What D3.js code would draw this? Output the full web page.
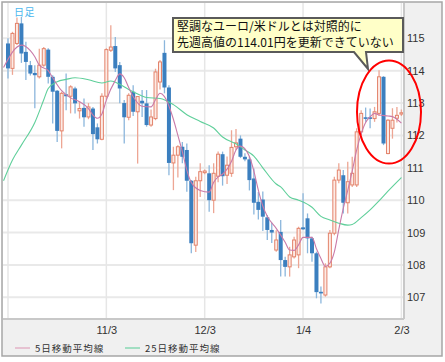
<!DOCTYPE html>
<html>
<head>
<meta charset="utf-8">
<script src="https://cdn.jsdelivr.net/npm/d3@7"></script>
<style>
  body { margin: 0; background: #fff; }
  svg { display: block; }
</style>
</head>
<body>
<div id="chart"></div>
<script>
// daily candles [open, high, low, close], one per trading day, index 0 = 10/3
const candles = [
  [114.84,115.00,113.76,114.07],[114.07,115.20,113.87,115.15],[114.84,115.64,114.79,115.46],[115.46,115.66,114.24,114.53],
  [114.58,114.89,113.71,114.27],[114.17,114.30,113.85,113.91],[113.93,114.17,112.84,113.86],[113.81,114.68,113.76,114.17],
  [114.17,114.73,114.12,114.68],[114.65,114.69,113.60,113.81],[113.81,113.86,112.37,113.35],[113.38,113.40,111.80,112.14],
  [112.14,113.35,111.60,113.30],[113.27,113.91,112.78,113.21],[113.21,113.55,112.68,113.50],[113.45,113.50,112.68,112.99],
  [112.76,113.04,112.52,112.83],[112.85,113.14,112.27,112.56],[112.57,113.00,112.50,112.88],[112.83,112.88,111.55,112.04],
  [112.25,112.37,111.75,111.88],[111.88,113.30,111.85,113.21],[113.21,114.69,113.09,114.65],[114.63,115.40,114.58,114.73],
  [114.76,115.04,113.96,114.07],[114.17,114.27,112.99,113.45],[113.00,113.09,111.75,112.56],[112.56,113.30,112.47,113.24],
  [113.35,113.55,112.60,112.73],[112.73,113.19,111.13,113.20],[113.07,113.40,112.57,112.99],[112.99,113.40,112.27,112.32],
  [112.32,112.80,112.27,112.57],[112.52,114.06,112.47,113.96],[113.65,114.33,113.42,114.27],[114.55,114.94,113.30,113.48],
  [113.48,113.55,110.77,111.15],[111.15,111.65,110.31,111.39],[111.39,111.70,110.70,111.65],[111.65,111.80,111.14,111.34],
  [111.55,111.75,110.26,110.60],[110.60,110.62,108.36,108.67],[108.61,110.72,108.40,110.60],[110.60,111.14,110.10,110.88],
  [110.85,110.95,110.80,110.90],[110.83,111.08,109.64,110.00],[110.00,111.14,109.60,110.83],[110.74,111.50,110.55,111.42],
  [111.42,111.50,110.45,110.74],[110.77,111.35,110.50,111.08],[110.83,112.16,110.72,111.63],[111.65,112.20,111.55,111.77],
  [111.90,112.00,111.30,111.34],[111.34,111.45,111.20,111.26],[111.26,111.35,110.30,110.62],[110.67,110.98,109.56,109.92],
  [109.95,110.25,109.40,109.70],[110.02,110.27,109.05,109.49],[109.47,109.54,108.77,109.08],[109.08,109.30,108.68,109.00],
  [108.46,109.07,108.41,108.77],[109.02,109.39,107.64,108.15],[108.15,108.25,107.64,107.94],[107.94,108.56,107.64,108.31],
  [108.25,108.87,108.20,108.77],[108.31,109.18,107.90,109.13],[109.16,110.21,109.08,109.10],[109.44,109.59,108.36,108.82],
  [108.82,108.87,108.10,108.36],[108.36,108.41,106.97,107.16],[107.17,107.33,106.81,107.12],[107.07,108.05,107.02,107.94],
  [107.94,109.08,107.90,108.98],[108.98,110.72,108.92,110.62],[110.62,111.14,110.52,110.93],[110.77,110.93,109.59,109.92],
  [109.92,111.19,109.59,110.57],[110.47,111.34,110.41,110.83],[110.47,112.22,110.41,112.11],[112.11,112.78,112.01,112.68],
  [112.56,112.86,112.42,112.51],[112.56,112.83,112.22,112.51],[112.52,112.88,112.42,112.73],[112.68,114.01,112.60,113.81],
  [113.81,113.83,111.70,111.75],[111.44,112.50,111.42,112.47],[112.22,112.84,111.90,112.47],[112.53,112.88,112.40,112.62],
  [112.66,112.80,112.60,112.70]
]

// moving averages: [day index, value]
const ma5 = [[-1,114.10],[3,114.79],[5,114.62],[6,114.43],[7,114.17],[9,114.0],[10,113.78],[12,113.38],[14,113.16],[16,113.04],
  [18,112.83],[19,112.63],[20,112.53],[21,112.66],[22,113.09],[24,113.7],[25,113.9],[26,113.78],[27,113.48],[28,113.2],[30,112.9],
  [32,112.88],[33,113.1],[34,113.3],[35,113.2],[37,112.5],[38,112.0],[39,111.5],[40,110.93],[41,110.55],[43,110.3],[45,110.25],
  [46,110.55],[47,110.72],[48,110.8],[50,111.2],[51,111.55],[52,111.67],[54,111.35],[55,110.9],[56,110.31],[57,109.82],[58,109.5],
  [60,109.13],[62,108.7],[63,108.46],[64,108.45],[65,108.62],[66,108.85],[68,108.85],[69,108.5],[70,108.2],[71,107.95],[72,108.05],
  [73,108.4],[74,109.1],[75,109.75],[76,110.3],[77,110.9],[78,111.55],[79,112.05],[80,112.4],[81,112.57],[82,112.68],[83,112.63],
  [85,112.6],[86,112.58],[87,112.5],[88,112.38]]
const ma25 = [[-1,110.6],[1,111.24],[3,111.7],[6,112.4],[8,113.1],[9,113.45],[11,113.66],[13,113.73],[15,113.78],[18,113.72],
  [21,113.62],[23,113.68],[25,113.58],[27,113.42],[30,113.22],[31,113.17],[34,113.14],[37,112.95],[40,112.64],[43,112.43],[46,112.23],
  [48,111.95],[51,111.74],[53,111.55],[55,111.36],[57,111.0],[60,110.5],[61,110.41],[63,110.1],[65,110.0],[68,109.78],[70,109.5],
  [72,109.39],[74,109.29],[76,109.23],[77,109.25],[79,109.46],[81,109.7],[83,109.98],[85,110.28],[88,110.7]]

const monthIdx = [0, 22, 44, 66, 88]
const monthLabels = ["", "11/3", "12/3", "1/4", "2/3"]
const priceTicks = [107, 108, 109, 110, 111, 112, 113, 114, 115]
const legendNames = ["5日移動平均線", "25日移動平均線"]
const noteLines = ["堅調なユーロ/米ドルとは対照的に", "先週高値の114.01円を更新できていない"]

const width = 445
const height = 362
const plot = {left: 3, right: 404, top: 3, bottom: 319}

const xScale = d3.scaleLinear().domain([0, 88]).range([8, 401.4])
const yScale = d3.scaleLinear().domain([106.33, 116]).range([319, 5.9])

const svg = d3.select("#chart").append("svg")
  .attr("width", width).attr("height", height)

// outer frame
svg.append("rect")
  .attr("x", 2).attr("y", 2).attr("width", 440).attr("height", 354)
  .attr("fill", "#f0f0f0").attr("stroke", "#a6a6a6").attr("stroke-width", 1.5)

svg.append("rect")
  .attr("x", plot.left).attr("y", plot.top)
  .attr("width", plot.right - plot.left).attr("height", plot.bottom - plot.top)
  .attr("fill", "#fff")

svg.append("clipPath").attr("id", "clip")
  .append("rect")
  .attr("x", plot.left).attr("y", plot.top)
  .attr("width", plot.right - plot.left).attr("height", plot.bottom - plot.top)

// grid
svg.append("g").selectAll("line")
  .data(priceTicks)
  .join("line")
  .attr("x1", plot.left).attr("x2", plot.right)
  .attr("y1", d => yScale(d)).attr("y2", d => yScale(d))
  .attr("stroke", "#e9e9e9").attr("stroke-width", 2)

svg.append("g").selectAll("line")
  .data(monthIdx)
  .join("line")
  .attr("x1", d => xScale(d)).attr("x2", d => xScale(d))
  .attr("y1", plot.top).attr("y2", plot.bottom)
  .attr("stroke", "#e6e6e6").attr("stroke-width", 1.5)

const g = svg.append("g").attr("clip-path", "url(#clip)")

// candles
const up = d => d[3] >= d[0]
g.selectAll("line.wick")
  .data(candles)
  .join("line")
  .attr("class", "wick")
  .attr("x1", (d, i) => xScale(i)).attr("x2", (d, i) => xScale(i))
  .attr("y1", d => yScale(d[1])).attr("y2", d => yScale(d[2]))
  .attr("stroke", d => up(d) ? "#eda694" : "#8bb6dc")
  .attr("stroke-width", 1.3)

g.selectAll("rect.body")
  .data(candles)
  .join("rect")
  .attr("class", "body")
  .attr("x", (d, i) => xScale(i) - (up(d) ? 1.5 : 2))
  .attr("width", d => up(d) ? 3 : 4)
  .attr("y", d => yScale(Math.max(d[0], d[3])))
  .attr("height", d => Math.max(1, Math.abs(yScale(d[0]) - yScale(d[3]))))
  .attr("fill", d => up(d) ? "#fdebe5" : "#3b7fbf")
  .attr("stroke", d => up(d) ? "#e3836b" : "none")
  .attr("stroke-width", 1)

// moving averages
const line = d3.line().x(d => xScale(d[0])).y(d => yScale(d[1])).curve(d3.curveMonotoneX)

g.append("path").datum(ma25)
  .attr("d", line).attr("fill", "none")
  .attr("stroke", "#5fcf9a").attr("stroke-width", 1.1)

g.append("path").datum(ma5)
  .attr("d", line).attr("fill", "none")
  .attr("stroke", "#c97aa8").attr("stroke-width", 1.1)

// plot borders
svg.append("line").attr("x1", plot.right).attr("x2", plot.right)
  .attr("y1", plot.top).attr("y2", plot.bottom)
  .attr("stroke", "#c8c8c8").attr("stroke-width", 2)
svg.append("line").attr("x1", plot.left).attr("x2", plot.right)
  .attr("y1", plot.bottom).attr("y2", plot.bottom)
  .attr("stroke", "#c8c8c8").attr("stroke-width", 2)

// axes
const yAxis = d3.axisRight(yScale).tickValues(priceTicks).tickSize(0).tickPadding(3)
svg.append("g")
  .attr("transform", "translate(" + plot.right + ",0)")
  .call(yAxis)
  .call(a => a.select(".domain").remove())
  .selectAll("text")
  .attr("font-family", "'Liberation Sans', Arial, sans-serif")
  .attr("font-size", 11).attr("fill", "#333")

const xAxis = d3.axisBottom(xScale).tickValues(monthIdx)
  .tickFormat((d, i) => monthLabels[i]).tickSize(0).tickPadding(7)
svg.append("g")
  .attr("transform", "translate(0," + plot.bottom + ")")
  .call(xAxis)
  .call(a => a.select(".domain").remove())
  .selectAll("text")
  .attr("font-family", "'Liberation Sans', Arial, sans-serif")
  .attr("font-size", 11).attr("fill", "#333")

// legend
const legendX = [15, 125]
const legendColors = ["#e0a3bd", "#6fd3a3"]
const lg = svg.append("g").selectAll("g")
  .data(legendNames)
  .join("g")
  .attr("transform", (d, i) => "translate(" + legendX[i] + ",348)")
lg.append("line").attr("x1", 0).attr("x2", 15)
  .attr("stroke", (d, i) => legendColors[i]).attr("stroke-width", 1.2)
lg.append("text").attr("x", 20).attr("y", 3.8)
  .attr("font-family", "'Noto Sans CJK JP', sans-serif")
  .attr("font-size", 9.5).attr("letter-spacing", 1)
  .attr("fill", "#333")
  .text(d => d)

// label top-left
svg.append("text").attr("x", 14).attr("y", 15.5)
  .attr("font-family", "'Noto Sans CJK JP', sans-serif")
  .attr("font-size", 10).attr("letter-spacing", 0.5)
  .attr("fill", "#4cb7ee")
  .text("日足")

// callout
svg.append("path")
  .attr("d", "M173,18 H403 V52 H366 L368,69 L354,52 H173 Z")
  .attr("fill", "#ffffc8").attr("stroke", "#5a5a5a").attr("stroke-width", 2)
  .attr("stroke-linejoin", "miter")

svg.append("g").selectAll("text")
  .data(noteLines)
  .join("text")
  .attr("x", 177).attr("y", (d, i) => 30.5 + i * 16.5)
  .attr("font-family", "'Noto Sans CJK JP', sans-serif")
  .attr("font-size", 12).attr("fill", "#111")
  .text(d => d)

svg.append("ellipse")
  .attr("cx", 389).attr("cy", 112).attr("rx", 32).attr("ry", 51.5)
  .attr("fill", "none").attr("stroke", "#f00").attr("stroke-width", 2)
</script>
</body>
</html>
